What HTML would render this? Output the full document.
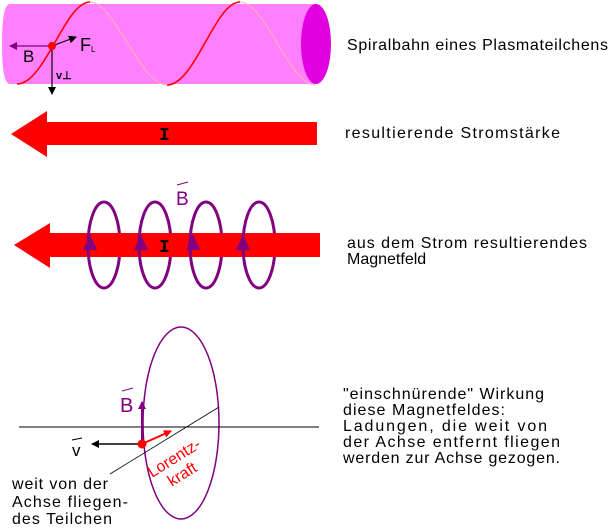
<!DOCTYPE html>
<html><head><meta charset="utf-8"><style>
html,body{margin:0;padding:0;background:#fff;}
svg{display:block;font-family:"Liberation Sans",sans-serif;}
</style></head><body>
<svg width="609" height="530" viewBox="0 0 609 530" xmlns="http://www.w3.org/2000/svg">
<defs>
<marker id="ab" markerWidth="8" markerHeight="8" refX="7" refY="4" orient="auto" markerUnits="userSpaceOnUse"><path d="M0,0 L8,4 L0,8 z" fill="#000"/></marker>
<marker id="ap" markerWidth="8" markerHeight="8" refX="7" refY="4" orient="auto" markerUnits="userSpaceOnUse"><path d="M0,0 L8,4 L0,8 z" fill="#800080"/></marker>
<marker id="ar" markerWidth="8" markerHeight="8" refX="7" refY="4" orient="auto" markerUnits="userSpaceOnUse"><path d="M0,0 L8,4 L0,8 z" fill="#f00"/></marker>
</defs>
<path d="M10,4 L316,4 L316,84 L10,84 Q2,84 2,44 Q2,4 10,4 Z" fill="#ff80ff"/>
<ellipse cx="316" cy="44" rx="15" ry="40" fill="#e000e0"/>
<path d="M17,84 C45,84 65,2 90,2" stroke="#f00" stroke-width="1.6" fill="none"/>
<path d="M90,2 C115,2 140,85 167,85" stroke="#ffb0b0" stroke-width="1" fill="none"/>
<path d="M167,85 C195,85 215,2 240,2" stroke="#f00" stroke-width="1.6" fill="none"/>
<path d="M240,2 C265,2 290,85 315,85" stroke="#ffb0b0" stroke-width="1" fill="none"/>
<line x1="52" y1="46" x2="10" y2="46" stroke="#800080" stroke-width="1.2" marker-end="url(#ap)"/>
<line x1="52" y1="46" x2="76" y2="37" stroke="#000" stroke-width="1.2" marker-end="url(#ab)"/>
<line x1="52" y1="46" x2="52" y2="94" stroke="#000" stroke-width="1.2" marker-end="url(#ab)"/>
<circle cx="52" cy="46" r="4" fill="#f00"/>
<text x="23" y="62" font-size="17" fill="#000">B</text>
<text x="80" y="51" font-size="18" fill="#000">F</text><text x="91" y="52" font-size="8">L</text>
<text x="56" y="79" font-size="11" font-weight="bold">v⊥</text>
<text x="347" y="50" font-size="16" textLength="261">Spiralbahn eines Plasmateilchens</text>
<path d="M317,122 L47,122 L47,111 L11,134 L47,157 L47,145 L317,145 Z" fill="#f00"/>
<text x="159" y="140" font-size="18" font-weight="bold" font-family="Liberation Mono,monospace">I</text>
<text x="345" y="138" font-size="16" textLength="215">resultierende Stromstärke</text>
<g stroke="#800080" stroke-width="3" fill="none">
<path d="M104,202 A16,43 0 0 1 104,288"/>
<path d="M155,202 A16,43 0 0 1 155,288"/>
<path d="M206,202 A16,43 0 0 1 206,288"/>
<path d="M259,202 A16,43 0 0 1 259,288"/>
</g>
<path d="M320,233 L50,233 L50,223 L14,245 L50,268 L50,257 L320,257 Z" fill="#f00"/>
<g stroke="#800080" stroke-width="3" fill="none">
<path d="M104,202 A16,43 0 0 0 104,288"/>
<path d="M155,202 A16,43 0 0 0 155,288"/>
<path d="M206,202 A16,43 0 0 0 206,288"/>
<path d="M259,202 A16,43 0 0 0 259,288"/>
</g>
<g fill="#800080">
<path d="M83,250 L97,250 L90,234 Z"/>
<path d="M134,250 L148,250 L141,234 Z"/>
<path d="M186,250 L200,250 L193,234 Z"/>
<path d="M236,250 L250,250 L243,234 Z"/>
</g>
<text x="159" y="252" font-size="18" font-weight="bold" font-family="Liberation Mono,monospace">I</text>
<text x="176" y="205" font-size="19" fill="#800080">B</text>
<line x1="177" y1="185" x2="188" y2="182" stroke="#800080" stroke-width="1"/>
<text x="347" y="248" font-size="16" textLength="240">aus dem Strom resultierendes</text>
<text x="347" y="264" font-size="16">Magnetfeld</text>
<ellipse cx="181" cy="423" rx="38" ry="96" fill="none" stroke="#800080" stroke-width="1.5"/>
<line x1="19" y1="427" x2="319" y2="427" stroke="#000" stroke-width="1"/>
<line x1="110" y1="474" x2="219" y2="407" stroke="#000" stroke-width="0.8"/>
<line x1="142" y1="444" x2="142" y2="402" stroke="#800080" stroke-width="2" marker-end="url(#ap)"/>
<line x1="142" y1="444" x2="92" y2="444" stroke="#000" stroke-width="1.5" marker-end="url(#ab)"/>
<line x1="142" y1="444" x2="171" y2="431" stroke="#f00" stroke-width="2" marker-end="url(#ar)"/>
<circle cx="142" cy="444" r="4.5" fill="#f00"/>
<text x="120" y="412" font-size="20" fill="#800080">B</text>
<line x1="122" y1="391" x2="133" y2="388" stroke="#800080" stroke-width="1"/>
<text x="72" y="456" font-size="17">v</text>
<line x1="72" y1="440" x2="82" y2="438" stroke="#000" stroke-width="1"/>
<g transform="translate(152,478) rotate(-32)" fill="#f00" font-size="16">
<text x="0" y="0">Lorentz-</text>
<text x="12" y="18">kraft</text>
</g>
<text x="12" y="489" font-size="16" textLength="96">weit von der</text>
<text x="12" y="507" font-size="16" textLength="116">Achse fliegen-</text>
<text x="12" y="524" font-size="16" textLength="100">des Teilchen</text>
<g font-size="16">
<text x="343" y="399" textLength="201">"einschnürende" Wirkung</text>
<text x="343" y="415" textLength="162">diese Magnetfeldes:</text>
<text x="343" y="431" textLength="204">Ladungen, die weit von</text>
<text x="343" y="447" textLength="217">der Achse entfernt fliegen</text>
<text x="343" y="463" textLength="217">werden zur Achse gezogen.</text>
</g>
</svg>
</body></html>
